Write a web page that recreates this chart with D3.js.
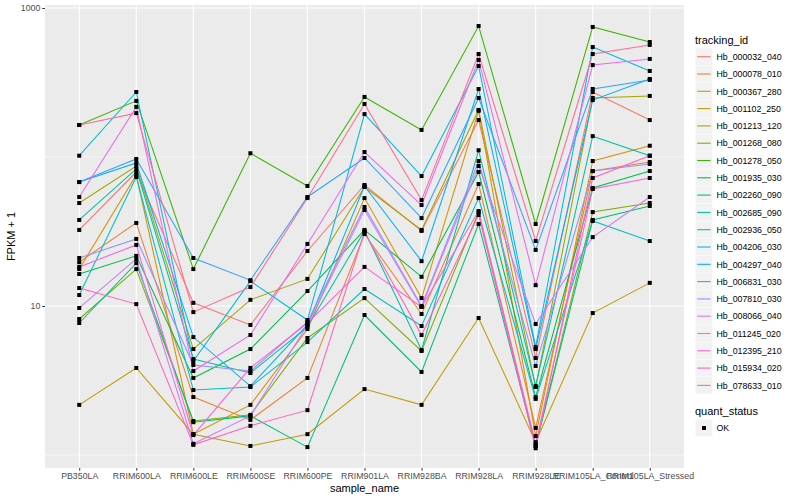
<!DOCTYPE html>
<html><head><meta charset="utf-8">
<script src="https://cdn.jsdelivr.net/npm/d3@7"></script>
<style>body{margin:0;background:#fff;}svg{display:block;font-family:"Liberation Sans",Arial,sans-serif;}</style>
</head><body>
<svg id="c" width="800" height="500"></svg>
<script>
const samples = ["PB350LA","RRIM600LA","RRIM600LE","RRIM600SE","RRIM600PE","RRIM901LA","RRIM928BA","RRIM928LA","RRIM928LE","RRIM105LA_Control","RRIM105LA_Stressed"];
const trackingIds = ["Hb_000032_040","Hb_000078_010","Hb_000367_280","Hb_001102_250","Hb_001213_120","Hb_001268_080","Hb_001278_050","Hb_001935_030","Hb_002260_090","Hb_002685_090","Hb_002936_050","Hb_004206_030","Hb_004297_040","Hb_006831_030","Hb_007810_030","Hb_008066_040","Hb_011245_020","Hb_012395_210","Hb_015934_020","Hb_078633_010"];
const colors = ["#F8766D","#EA8331","#D89000","#C09B00","#A3A500","#7CAE00","#39B600","#00BB4E","#00BF7D","#00C1A3","#00BFC4","#00BAE0","#00B0F6","#35A2FF","#9590FF","#C77CFF","#E76BF3","#FA62DB","#FF62BC","#FF6C91"];
// FPKM + 1 per sample (same order as samples)
const Hb_000032_040 = [32.4, 79.3, 10.5, 7.46, 23.4, 64.9, 31.9, 177, 4.48, 273, 177];
const Hb_000078_010 = [19.7, 36.1, 2.45, 1.72, 3.29, 30.4, 8.84, 65.9, 1.52, 80.5, 92.6];
const Hb_000367_280 = [17.7, 75.7, 1.38, 2.17, 7.01, 53.0, 11.3, 204, 1.34, 94.0, 119];
const Hb_001102_250 = [2.17, 3.84, 1.38, 1.15, 1.38, 2.77, 2.17, 8.31, 1.22, 8.97, 14.3];
const Hb_001213_120 = [49.1, 87.0, 5.14, 11.0, 15.2, 62.9, 32.4, 207, 2.86, 249, 257];
const Hb_001268_080 = [8.18, 17.7, 1.69, 1.86, 6.10, 11.3, 4.99, 42.7, 1.15, 42.7, 49.1];
const Hb_001278_050 = [164, 238, 17.7, 106, 63.9, 253, 152, 757, 35.5, 746, 591];
const Hb_001935_030 = [16.4, 21.7, 3.29, 5.14, 12.6, 32.4, 15.7, 79.3, 2.45, 61.9, 80.5];
const Hb_002260_090 = [7.69, 19.4, 1.66, 1.83, 1.13, 8.70, 3.61, 35.5, 1.15, 37.8, 46.9];
const Hb_002685_090 = [37.8, 83.1, 4.41, 3.55, 7.23, 31.9, 5.07, 111, 2.90, 138, 102];
const Hb_002936_050 = [11.85, 73.4, 2.73, 2.86, 5.73, 13.0, 7.34, 53.0, 2.38, 37.2, 27.3];
const Hb_004206_030 = [102, 273, 4.27, 14.7, 8.05, 194, 74.5, 408, 5.31, 547, 378];
const Hb_004297_040 = [67.9, 91.1, 6.19, 2.90, 7.46, 63.9, 20.0, 286, 5.14, 241, 334];
const Hb_006831_030 = [67.9, 97.0, 21.0, 14.9, 53.9, 98.5, 38.9, 249, 23.8, 286, 329];
const Hb_007810_030 = [21.0, 28.2, 4.02, 3.66, 7.81, 46.2, 10.0, 94.0, 3.96, 80.5, 89.8];
const Hb_008066_040 = [9.7, 20.7, 1.19, 1.83, 7.46, 44.1, 9.85, 87.0, 7.57, 29.0, 53.9];
const Hb_011245_020 = [53.9, 217, 3.66, 6.39, 26.1, 108, 47.6, 448, 13.8, 414, 455];
const Hb_012395_210 = [18.3, 25.7, 1.36, 3.84, 7.69, 18.3, 9.85, 43.4, 1.19, 61.0, 72.3];
const Hb_015934_020 = [13.2, 10.3, 1.17, 1.57, 2.00, 31.4, 6.39, 40.8, 1.11, 72.3, 102];
const Hb_078633_010 = [164, 197, 9.1, 13.4, 53.0, 227, 51.4, 491, 27.3, 491, 565];
const yMajorTicks = [10, 1000];
const yMinorTicks = [1, 100];

const seriesValues = [Hb_000032_040,Hb_000078_010,Hb_000367_280,Hb_001102_250,Hb_001213_120,Hb_001268_080,Hb_001278_050,Hb_001935_030,Hb_002260_090,Hb_002685_090,Hb_002936_050,Hb_004206_030,Hb_004297_040,Hb_006831_030,Hb_007810_030,Hb_008066_040,Hb_011245_020,Hb_012395_210,Hb_015934_020,Hb_078633_010];
const series = trackingIds.map((id,i)=>({id, color: colors[i], values: seriesValues[i]}));

const svg = d3.select("#c");
const P = {l:45, r:684, t:5, b:468};
const x = d3.scalePoint().domain(samples).range([P.l, P.r]).padding(0.6);
const y = d3.scaleLog().domain([Math.pow(10,-0.0872), Math.pow(10,3.0201)]).range([P.b, P.t]);

svg.append("rect").attr("x",P.l).attr("y",P.t).attr("width",P.r-P.l).attr("height",P.b-P.t).attr("fill","#EBEBEB");
const g = svg.append("g");
g.selectAll(".ymin").data(yMinorTicks).join("line").attr("x1",P.l).attr("x2",P.r).attr("y1",d=>y(d)).attr("y2",d=>y(d)).attr("stroke","#fff").attr("stroke-width",0.55);
g.selectAll(".ymaj").data(yMajorTicks).join("line").attr("x1",P.l).attr("x2",P.r).attr("y1",d=>y(d)).attr("y2",d=>y(d)).attr("stroke","#fff").attr("stroke-width",1.1);
g.selectAll(".xmaj").data(samples).join("line").attr("x1",d=>x(d)).attr("x2",d=>x(d)).attr("y1",P.t).attr("y2",P.b).attr("stroke","#fff").attr("stroke-width",1.1);

const line = d3.line().x((d,i)=>x(samples[i])).y(d=>y(d));
svg.append("g").selectAll("path").data(series).join("path")
  .attr("d",d=>line(d.values)).attr("fill","none").attr("stroke",d=>d.color).attr("stroke-width",1.05);
const pts = [];
series.forEach(s=>s.values.forEach((v,i)=>pts.push({s:samples[i], v})));
svg.append("g").selectAll("rect").data(pts).join("rect")
  .attr("x",d=>x(d.s)-2).attr("y",d=>y(d.v)-2).attr("width",4).attr("height",4).attr("fill","#000");

// axes
const yAxis = d3.axisLeft(y).tickValues(yMajorTicks).tickFormat(d3.format("d")).tickSize(2.7).tickPadding(2);
const ya = svg.append("g").attr("transform",`translate(${P.l},0)`).call(yAxis);
ya.select(".domain").remove();
ya.selectAll("line").attr("stroke","#333");
ya.selectAll("text").attr("fill","#4D4D4D").style("font-size","8.8px");
const xAxis = d3.axisBottom(x).tickSize(2.7).tickPadding(2);
const xa = svg.append("g").attr("transform",`translate(0,${P.b})`).call(xAxis);
xa.select(".domain").remove();
xa.selectAll("line").attr("stroke","#333");
xa.selectAll("text").attr("fill","#4D4D4D").style("font-size","8.8px");

svg.append("text").attr("x",(P.l+P.r)/2).attr("y",492).attr("text-anchor","middle").style("font-size","11px").text("sample_name");
svg.append("text").attr("transform",`translate(15,${(P.t+P.b)/2}) rotate(-90)`).attr("text-anchor","middle").style("font-size","11px").text("FPKM + 1");

// legend
const L = svg.append("g");
L.append("text").attr("x",695).attr("y",44).style("font-size","11px").text("tracking_id");
const step = 17.3, y0 = 56.7;
series.forEach((s,i)=>{
  const cy = y0 + i*step;
  L.append("rect").attr("x",695.5).attr("y",cy-8.4).attr("width",16.8).attr("height",16.8).attr("fill","#F2F2F2");
  L.append("line").attr("x1",697.2).attr("x2",710.6).attr("y1",cy).attr("y2",cy).attr("stroke",s.color).attr("stroke-width",1.1);
  L.append("text").attr("x",716.5).attr("y",cy+3.2).style("font-size","8.8px").attr("fill","#000").text(s.id);
});
L.append("text").attr("x",695).attr("y",415).style("font-size","11px").text("quant_status");
L.append("rect").attr("x",695.5).attr("y",428-8.4).attr("width",16.8).attr("height",16.8).attr("fill","#F2F2F2");
L.append("rect").attr("x",702).attr("y",426).attr("width",4).attr("height",4).attr("fill","#000");
L.append("text").attr("x",716.5).attr("y",431.2).style("font-size","8.8px").text("OK");
</script>
</body></html>
